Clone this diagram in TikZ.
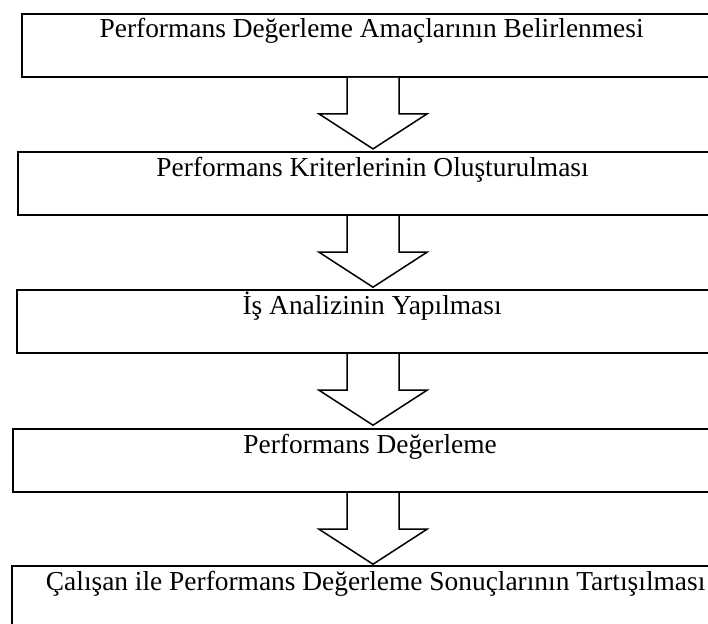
\documentclass[tikz,border=0pt]{standalone}
\usepackage{fontspec}
\setmainfont{Liberation Serif}
\usetikzlibrary{calc}

\begin{document}
\begin{tikzpicture}[x=1pt, y=-1pt,
  every node/.style={font=\fontsize{27.4}{32}\selectfont},
  stagebox/.style={draw, line width=2.2pt, rectangle, anchor=north west,
    inner xsep=0pt, inner ysep=0pt, text height=24pt, text depth=39pt},
  blockarrow/.style={draw, line width=1.5pt, line join=miter, fill=white}]
\useasboundingbox (0,0) rectangle (708,623);
\fill[white] (0,0) rectangle (708,623);
\coordinate (ax) at (373,0);
\node[stagebox, minimum width=699pt] (b1) at (21,12.7) {Performans Değerleme Amaçlarının Belirlenmesi};
\node[stagebox, minimum width=709pt] (b2) at (17,151)  {Performans Kriterlerinin Oluşturulması};
\node[stagebox, minimum width=710pt] (b3) at (16,289)  {İş Analizinin Yapılması};
\node[stagebox, minimum width=714pt] (b4) at (12,428)  {Performans Değerleme};
\node[stagebox, minimum width=727pt] (b5) at (11,565)  {Çalışan ile Performans Değerleme Sonuçlarının Tartışılması};
\foreach \a in {b1,b2,b3,b4}
  \draw[blockarrow] ([xshift=-26pt]ax |- \a.south) -- ++(0,36) -- ++(-28,0)
    -- ++(54,35) -- ++(54,-35) -- ++(-28,0) -- ++(0,-36);
\end{tikzpicture}
\end{document}
